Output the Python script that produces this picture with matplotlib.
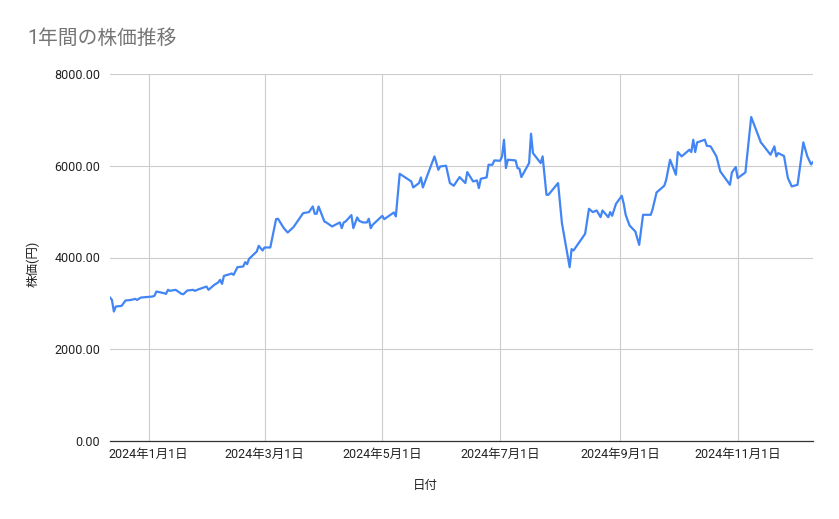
import pandas as pd
import matplotlib
matplotlib.use('Agg')
import matplotlib.pyplot as plt
import matplotlib.dates as mdates
from matplotlib.ticker import FormatStrFormatter

plt.rcParams['font.family'] = ['Roboto', 'Noto Sans CJK JP', 'DejaVu Sans']

# values
dates = [
    '2023-12-12', '2023-12-13', '2023-12-14', '2023-12-15', '2023-12-18', '2023-12-20',
    '2023-12-23', '2023-12-25', '2023-12-26', '2023-12-28', '2024-01-03', '2024-01-04',
    '2024-01-05', '2024-01-09', '2024-01-10', '2024-01-11', '2024-01-12', '2024-01-15',
    '2024-01-18', '2024-01-19', '2024-01-21', '2024-01-24', '2024-01-25', '2024-01-27',
    '2024-01-31', '2024-02-01', '2024-02-04', '2024-02-06', '2024-02-07', '2024-02-08',
    '2024-02-09', '2024-02-12', '2024-02-13', '2024-02-14', '2024-02-16', '2024-02-19',
    '2024-02-20', '2024-02-21', '2024-02-22', '2024-02-26', '2024-02-27', '2024-02-29',
    '2024-03-01', '2024-03-04', '2024-03-07', '2024-03-08', '2024-03-11', '2024-03-13',
    '2024-03-16', '2024-03-18', '2024-03-20', '2024-03-21', '2024-03-24', '2024-03-26',
    '2024-03-27', '2024-03-28', '2024-03-29', '2024-04-01', '2024-04-02', '2024-04-05',
    '2024-04-09', '2024-04-10', '2024-04-11', '2024-04-12', '2024-04-15', '2024-04-16',
    '2024-04-18', '2024-04-19', '2024-04-21', '2024-04-23', '2024-04-24', '2024-04-25',
    '2024-04-26', '2024-05-01', '2024-05-02', '2024-05-07', '2024-05-08', '2024-05-10',
    '2024-05-16', '2024-05-17', '2024-05-20', '2024-05-21', '2024-05-22', '2024-05-28',
    '2024-05-30', '2024-05-31', '2024-06-03', '2024-06-05', '2024-06-07', '2024-06-10',
    '2024-06-13', '2024-06-14', '2024-06-17', '2024-06-19', '2024-06-20', '2024-06-21',
    '2024-06-24', '2024-06-25', '2024-06-27', '2024-06-28', '2024-07-01', '2024-07-02',
    '2024-07-03', '2024-07-04', '2024-07-05', '2024-07-09', '2024-07-10', '2024-07-11',
    '2024-07-12', '2024-07-16', '2024-07-17', '2024-07-18', '2024-07-22', '2024-07-23',
    '2024-07-25', '2024-07-26', '2024-07-31', '2024-08-02', '2024-08-06', '2024-08-07',
    '2024-08-08', '2024-08-14', '2024-08-16', '2024-08-18', '2024-08-20', '2024-08-22',
    '2024-08-23', '2024-08-26', '2024-08-27', '2024-08-28', '2024-08-30', '2024-09-02',
    '2024-09-03', '2024-09-04', '2024-09-06', '2024-09-09', '2024-09-11', '2024-09-13',
    '2024-09-17', '2024-09-18', '2024-09-20', '2024-09-24', '2024-09-25', '2024-09-27',
    '2024-09-30', '2024-10-01', '2024-10-03', '2024-10-07', '2024-10-08', '2024-10-09',
    '2024-10-10', '2024-10-11', '2024-10-15', '2024-10-16', '2024-10-18', '2024-10-21',
    '2024-10-23', '2024-10-28', '2024-10-29', '2024-10-31', '2024-11-01', '2024-11-05',
    '2024-11-08', '2024-11-13', '2024-11-14', '2024-11-18', '2024-11-20', '2024-11-21',
    '2024-11-22', '2024-11-25', '2024-11-27', '2024-11-29', '2024-12-02', '2024-12-05',
    '2024-12-07', '2024-12-09', '2024-12-10',
]

prices = [
    3127, 3076, 2822, 2931, 2945, 3062,
    3076, 3098, 3076, 3127, 3149, 3164,
    3258, 3222, 3207, 3295, 3273, 3295,
    3207, 3200, 3280, 3295, 3273, 3309,
    3367, 3295, 3404, 3455, 3513, 3425,
    3600, 3636, 3651, 3622, 3789, 3804,
    3898, 3855, 3971, 4131, 4255, 4153,
    4218, 4218, 4836, 4844, 4640, 4545,
    4662, 4785, 4909, 4967, 4989, 5113,
    4953, 4953, 5113, 4785, 4764, 4676,
    4764, 4640, 4764, 4785, 4924, 4640,
    4873, 4800, 4764, 4764, 4844, 4640,
    4713, 4909, 4836, 4982, 4895, 5825,
    5658, 5527, 5622, 5745, 5527, 6204,
    5913, 5985, 6000, 5622, 5564, 5753,
    5622, 5862, 5658, 5680, 5513, 5716,
    5745, 6022, 6022, 6116, 6109, 6204,
    6567, 5949, 6131, 6116, 5949, 5935,
    5753, 6058, 6698, 6276, 6058, 6204,
    5367, 5367, 5622, 4749, 3789, 4182,
    4153, 4516, 5062, 4989, 5025, 4880,
    5025, 4880, 4989, 4909, 5171, 5345,
    5171, 4931, 4698, 4567, 4276, 4931,
    4931, 5062, 5418, 5564, 5695, 6131,
    5804, 6298, 6204, 6349, 6298, 6567,
    6298, 6509, 6567, 6436, 6422, 6204,
    5876, 5585, 5855, 5971, 5731, 5855,
    7062, 6509, 6458, 6240, 6422, 6204,
    6276, 6211, 5731, 5549, 5585, 6509,
    6211, 6029, 6080,
]

tick_dates = ['2024-01-01', '2024-03-01', '2024-05-01', '2024-07-01', '2024-09-01', '2024-11-01']
tick_labels = ['2024年1月1日', '2024年3月1日', '2024年5月1日', '2024年7月1日', '2024年9月1日', '2024年11月1日']
y_ticks = [0, 2000, 4000, 6000, 8000]


def create_chart():
    df = pd.DataFrame({'date': pd.to_datetime(dates), 'price': prices})

    fig = plt.figure(figsize=(8.39, 5.19), dpi=100)
    ax = fig.add_axes([110 / 839, 78 / 519, 703 / 839, 367 / 519])

    ax.plot(df['date'], df['price'], color='#4285F4', linewidth=1.6, solid_joinstyle='round')

    ax.set_xlim(df['date'].iloc[0], df['date'].iloc[-1])
    ax.set_ylim(0, 8000)

    # grid and axes in the Google Sheets look
    ax.set_yticks(y_ticks)
    ax.yaxis.set_major_formatter(FormatStrFormatter('%.2f'))
    ax.set_xticks(pd.to_datetime(tick_dates))
    ax.set_xticklabels(tick_labels)
    ax.grid(True, color='#cccccc', linewidth=0.8)
    ax.set_axisbelow(True)
    for side in ['top', 'right', 'left']:
        ax.spines[side].set_visible(False)
    ax.spines['bottom'].set_color('#333333')
    ax.spines['bottom'].set_linewidth(0.9)
    ax.tick_params(axis='both', length=0, labelsize=9, colors='#222222')
    ax.tick_params(axis='y', pad=7)
    ax.tick_params(axis='x', pad=5)

    fig.text(27 / 839, 1 - 38 / 519, '1年間の株価推移', fontsize=14.2, color='#757575',
             ha='left', va='center')
    fig.text(33 / 839, 1 - 264 / 519, '株価(円)', fontsize=9, color='#222222',
             rotation=90, ha='center', va='center')
    fig.text(425 / 839, 1 - 485 / 519, '日付', fontsize=9, color='#222222',
             ha='center', va='center')

    fig.savefig('out.png', dpi=100)


if __name__ == "__main__":
    create_chart()
